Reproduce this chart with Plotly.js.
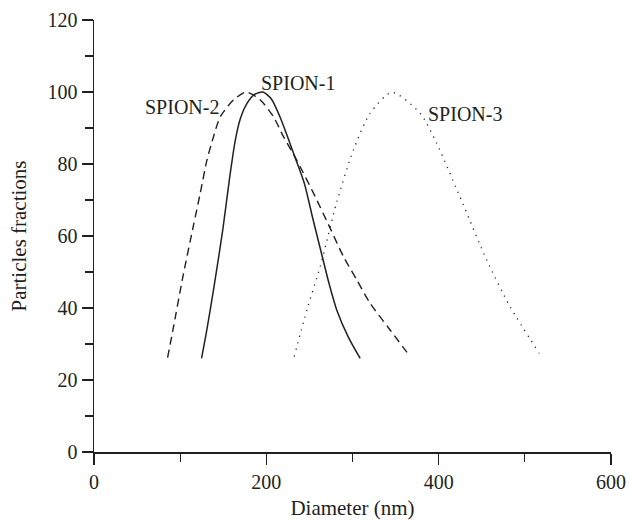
<!DOCTYPE html>
<html>
<head>
<meta charset="utf-8">
<script src="https://cdn.plot.ly/plotly-3.0.1.min.js"></script>
<style>html,body{margin:0;padding:0;background:#fff;} #chart{width:629px;height:522px;}</style>
</head>
<body>
<div id="chart"></div>
<script>
// SPION-1 (solid)
var spion1X = [124.8, 131, 140, 149.6, 157.3, 163.9, 169.7, 177.4, 186, 196, 206, 216, 224, 232.3, 243.9, 254, 264.4, 273, 281.8, 295, 308.9];
var spion1Y = [26.0, 34.0, 47.0, 62.0, 76.0, 86.5, 92.5, 96.8, 99.3, 100, 98.0, 93.0, 88.0, 82.5, 74.8, 64.8, 54.8, 46.6, 39.4, 32.0, 26.0];
// SPION-2 (dashed)
var spion2X = [85.4, 91.6, 103, 115.5, 123.3, 131, 138.7, 146.5, 162, 176.6, 193, 208.3, 219.9, 235.4, 254.7, 274, 289.5, 305, 320.5, 343.7, 366.9];
var spion2Y = [26.2, 33.9, 48.5, 63.0, 71.9, 81.0, 87.6, 93.1, 97.8, 100, 97.8, 93.1, 87.6, 81.0, 71.9, 62.2, 54.3, 47.8, 41.3, 33.9, 26.5];
// SPION-3 (dotted)
var spion3X = [232.3, 247, 262.5, 281.8, 301.1, 320.5, 345.6, 378.5, 397.8, 428.7, 455.8, 482.8, 516.8];
var spion3Y = [26.5, 39.4, 51.5, 69.5, 83.9, 94.1, 99.9, 94.1, 85.7, 68.6, 53.3, 40.4, 27.4];

var seriesNames = ['SPION-1', 'SPION-2', 'SPION-3'];
var xTickVals = [0, 200, 400, 600];
var yTickVals = [0, 20, 40, 60, 80, 100, 120];

var ink = '#231f20';
var fontFam = 'Liberation Serif, Times New Roman, serif';

var traces = [
  {x: spion1X, y: spion1Y, name: seriesNames[0], mode: 'lines',
   line: {color: ink, width: 1.5, shape: 'spline', smoothing: 0.7}},
  {x: spion2X, y: spion2Y, name: seriesNames[1], mode: 'lines',
   line: {color: ink, width: 1.4, shape: 'spline', smoothing: 0.7, dash: '8px,5px'}},
  {x: spion3X, y: spion3Y, name: seriesNames[2], mode: 'lines',
   line: {color: ink, width: 1.3, shape: 'spline', smoothing: 0.7, dash: '1.2px,5.5px'}}
];

var axisCommon = {
  showgrid: false, zeroline: false, showline: true, linecolor: ink, linewidth: 1.5,
  ticks: 'outside', ticklen: 11, tickwidth: 1.5, tickcolor: ink,
  tickfont: {family: fontFam, size: 20, color: ink},
  fixedrange: true
};

var layout = {
  width: 629, height: 522,
  margin: {l: 94, r: 18, t: 20, b: 70},
  paper_bgcolor: '#fff', plot_bgcolor: '#fff',
  showlegend: false,
  font: {family: fontFam, color: ink},
  xaxis: Object.assign({}, axisCommon, {
    range: [0, 600], tickmode: 'array', tickvals: xTickVals, ticktext: xTickVals.map(String),
    minor: {dtick: 100, tick0: 0, ticks: 'outside', ticklen: 8, tickwidth: 1.3, tickcolor: ink, showgrid: false},
    title: {text: 'Diameter (nm)', font: {family: fontFam, size: 21, color: ink}, standoff: 9}
  }),
  yaxis: Object.assign({}, axisCommon, {
    range: [0, 120], tickmode: 'array', tickvals: yTickVals, ticktext: yTickVals.map(String),
    minor: {dtick: 10, tick0: 0, ticks: 'outside', ticklen: 8, tickwidth: 1.3, tickcolor: ink, showgrid: false},
    title: {text: 'Particles fractions', font: {family: fontFam, size: 21, color: ink}, standoff: 15}
  }),
  annotations: [
    {x: 236.4, y: 102.5, xref: 'x', yref: 'y', text: seriesNames[0], showarrow: false,
     font: {family: fontFam, size: 20, color: ink}},
    {x: 102.4, y: 95.8, xref: 'x', yref: 'y', text: seriesNames[1], showarrow: false,
     font: {family: fontFam, size: 20, color: ink}},
    {x: 430.3, y: 93.9, xref: 'x', yref: 'y', text: seriesNames[2], showarrow: false,
     font: {family: fontFam, size: 20, color: ink}}
  ]
};

Plotly.newPlot('chart', traces, layout, {displayModeBar: false, staticPlot: true});
</script>
</body>
</html>
